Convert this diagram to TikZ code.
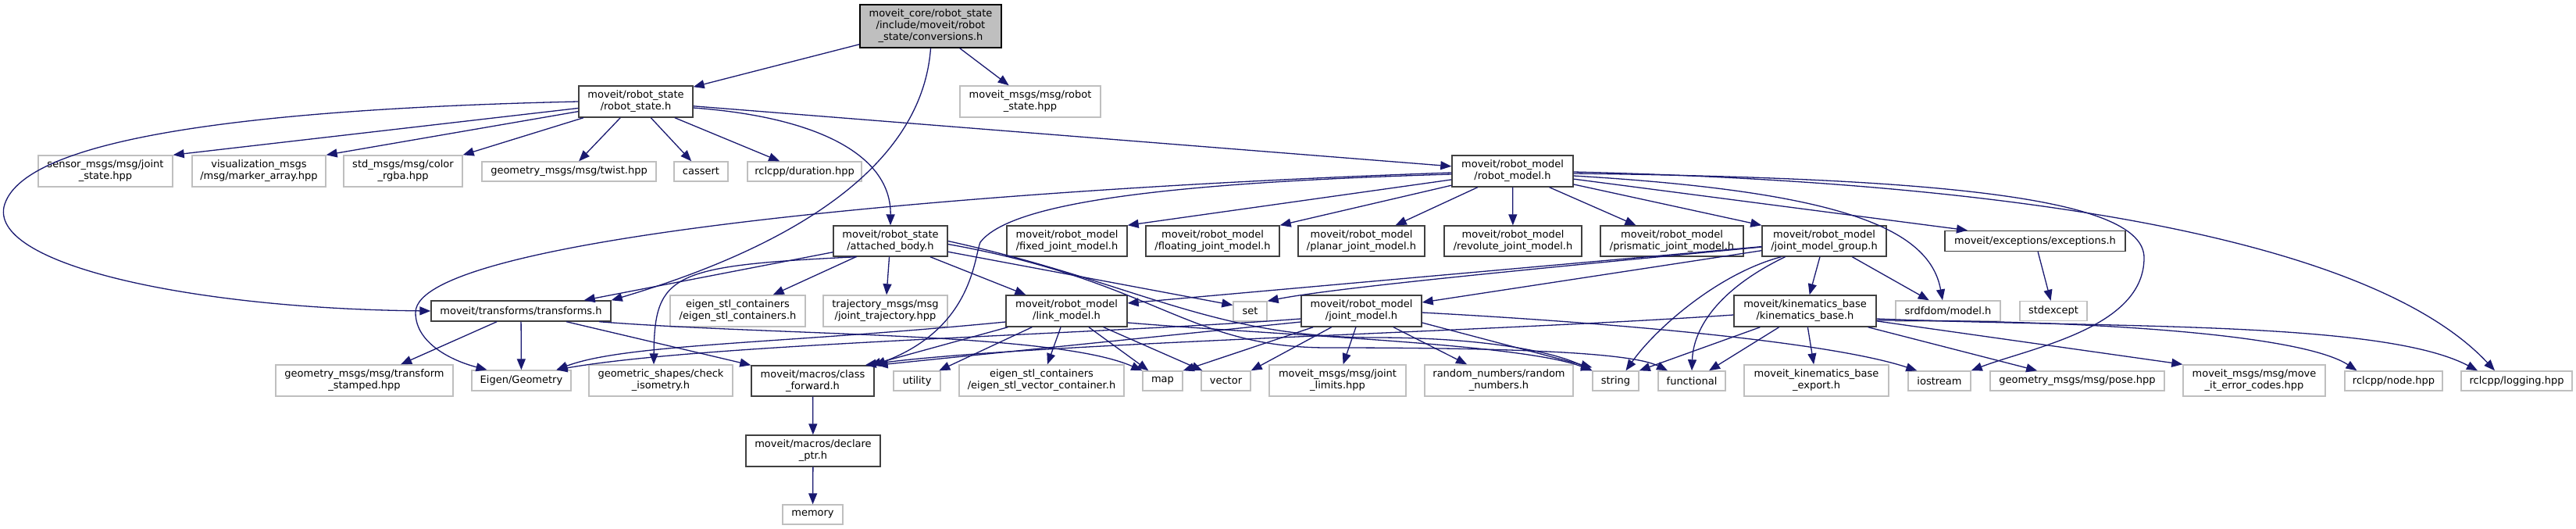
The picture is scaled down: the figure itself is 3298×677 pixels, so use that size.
\documentclass[tikz,border=0pt]{standalone}
\usepackage{fontspec}
\setmainfont{DejaVu Sans}
\usetikzlibrary{arrows.meta}
\definecolor{edgeblue}{HTML}{191970}
\definecolor{docgray}{HTML}{404040}
\definecolor{extgray}{HTML}{BFBFBF}
\begin{document}
\begin{tikzpicture}[x=1pt,y=-1pt,
  box/.style={rectangle, inner sep=0pt, align=center, font=\fontsize{13}{15}\selectfont, line width=1.4pt, fill=white},
  docbox/.style={box, draw=docgray},
  extbox/.style={box, draw=extgray},
  rootbox/.style={box, draw=black, fill=extgray},
  wh/.style 2 args={minimum width=#1pt, minimum height=#2pt},
  dep/.style={draw=edgeblue, line width=1.3pt, -{Triangle[length=14pt,width=11pt]}},
]
\useasboundingbox (0,0) rectangle (3298,677);

% row 0
\node[rootbox, wh={181}{55}] (conv) at (1191.5,33.5) {moveit\_core/robot\_state\\/include/moveit/robot\\\_state/conversions.h};
% row 1
\node[docbox, wh={146}{40}] (rs) at (814,130) {moveit/robot\_state\\/robot\_state.h};
\node[extbox, wh={180}{40}] (msgrs) at (1319,130) {moveit\_msgs/msg/robot\\\_state.hpp};
% row 2
\node[extbox, wh={172}{40}] (js) at (135,219) {sensor\_msgs/msg/joint\\\_state.hpp};
\node[extbox, wh={171}{40}] (marker) at (331.5,219) {visualization\_msgs\\/msg/marker\_array.hpp};
\node[extbox, wh={152}{40}] (color) at (516,219) {std\_msgs/msg/color\\\_rgba.hpp};
\node[extbox, wh={223}{25}] (twist) at (728.5,219.5) {geometry\_msgs/msg/twist.hpp};
\node[extbox, wh={69}{25}] (cassert) at (897.5,219.5) {cassert};
\node[extbox, wh={146}{25}] (duration) at (1030,219.5) {rclcpp/duration.hpp};
\node[docbox, wh={155}{40}] (rm) at (1936.5,219) {moveit/robot\_model\\/robot\_model.h};
% row 3
\node[docbox, wh={146}{39}] (ab) at (1140,308.5) {moveit/robot\_state\\/attached\_body.h};
\node[docbox, wh={154}{39}] (fixed) at (1366,308.5) {moveit/robot\_model\\/fixed\_joint\_model.h};
\node[docbox, wh={171}{39}] (floating) at (1552.5,308.5) {moveit/robot\_model\\/floating\_joint\_model.h};
\node[docbox, wh={162}{39}] (planar) at (1743,308.5) {moveit/robot\_model\\/planar\_joint\_model.h};
\node[docbox, wh={176}{39}] (revolute) at (1937,308.5) {moveit/robot\_model\\/revolute\_joint\_model.h};
\node[docbox, wh={183}{39}] (prismatic) at (2140.5,308.5) {moveit/robot\_model\\/prismatic\_joint\_model.h};
\node[docbox, wh={159}{39}] (jmg) at (2335.5,308.5) {moveit/robot\_model\\/joint\_model\_group.h};
\node[docbox, wh={231}{26}] (exc) at (2605.5,308.5) {moveit/exceptions/exceptions.h};
% row 4
\node[docbox, wh={230}{26}] (tf) at (667,398) {moveit/transforms/transforms.h};
\node[extbox, wh={173}{40}] (esc) at (944.5,398) {eigen\_stl\_containers\\/eigen\_stl\_containers.h};
\node[extbox, wh={159}{40}] (traj) at (1133.5,398) {trajectory\_msgs/msg\\/joint\_trajectory.hpp};
\node[docbox, wh={155}{40}] (lm) at (1365.5,398) {moveit/robot\_model\\/link\_model.h};
\node[extbox, wh={43}{25}] (nset) at (1600.5,398.5) {set};
\node[docbox, wh={154}{40}] (jm) at (1743,398) {moveit/robot\_model\\/joint\_model.h};
\node[docbox, wh={182}{40}] (kb) at (2311,398) {moveit/kinematics\_base\\/kinematics\_base.h};
\node[extbox, wh={134}{26}] (srdf) at (2494,398) {srdfdom/model.h};
\node[extbox, wh={86}{25}] (stdexcept) at (2629,398) {stdexcept};
% row 5
\node[extbox, wh={227}{40}] (tfst) at (466.5,487) {geometry\_msgs/msg/transform\\\_stamped.hpp};
\node[extbox, wh={127}{26}] (eigen) at (667.5,487) {Eigen/Geometry};
\node[extbox, wh={184}{40}] (geoiso) at (846,487) {geometric\_shapes/check\\\_isometry.h};
\node[docbox, wh={157}{39}] (cf) at (1040.5,487.5) {moveit/macros/class\\\_forward.h};
\node[extbox, wh={60}{25}] (utility) at (1174,487.5) {utility};
\node[extbox, wh={211}{40}] (esvc) at (1333.5,487) {eigen\_stl\_containers\\/eigen\_stl\_vector\_container.h};
\node[extbox, wh={51}{25}] (nmap) at (1488.5,487.5) {map};
\node[extbox, wh={63}{25}] (nvector) at (1569.5,487.5) {vector};
\node[extbox, wh={175}{40}] (jl) at (1712.5,487) {moveit\_msgs/msg/joint\\\_limits.hpp};
\node[extbox, wh={190}{40}] (rn) at (1919,487) {random\_numbers/random\\\_numbers.h};
\node[extbox, wh={59}{25}] (nstring) at (2068.5,487.5) {string};
\node[extbox, wh={86}{25}] (functional) at (2166,487.5) {functional};
\node[extbox, wh={185}{40}] (kbexp) at (2325.5,487) {moveit\_kinematics\_base\\\_export.h};
\node[extbox, wh={80}{25}] (iostream) at (2483,487.5) {iostream};
\node[extbox, wh={223}{25}] (pose) at (2659.5,487.5) {geometry\_msgs/msg/pose.hpp};
\node[extbox, wh={182}{40}] (errcodes) at (2886,487) {moveit\_msgs/msg/move\\\_it\_error\_codes.hpp};
\node[extbox, wh={125}{25}] (rnode) at (3064.5,487.5) {rclcpp/node.hpp};
\node[extbox, wh={142}{25}] (logging) at (3222,487.5) {rclcpp/logging.hpp};
% row 6, 7
\node[docbox, wh={172}{40}] (declare) at (1041,577) {moveit/macros/declare\\\_ptr.h};
\node[extbox, wh={77}{25}] (memory) at (1040.5,658.5) {memory};

% conversions.h
\draw[dep] (conv) -- (rs);
\draw[dep] (conv) -- (msgrs);
\draw[dep] (conv.south) .. controls (1180,220) and (1000,320) .. (tf.north east);

% robot_state.h
\draw[dep] (rs) -- (js.north east);
\draw[dep] (rs) -- (marker.north east);
\draw[dep] (rs) -- (color.north east);
\draw[dep] (rs) -- (twist);
\draw[dep] (rs) -- (cassert);
\draw[dep] (rs) -- (duration);
\draw[dep] (rs) -- (rm);
\draw[dep] ([yshift=-8pt]rs.east) .. controls (1050,150) and (1141,200) .. (ab.north);
\draw[dep] (rs.west) .. controls (300,140) and (25,180) .. (5,265) .. controls (-10,340) and (250,395) .. (tf.west);

% robot_model.h
\draw[dep] (rm) -- (fixed.north east);
\draw[dep] (rm) -- (floating.north east);
\draw[dep] (rm) -- (planar);
\draw[dep] (rm) -- (revolute);
\draw[dep] (rm) -- (prismatic);
\draw[dep] (rm) -- (jmg.north west);
\draw[dep] (rm) -- (exc.171);
\draw[dep] ([yshift=-6pt]rm.east) .. controls (2350,245) and (2470,290) .. ([xshift=-7pt]srdf.north);
\draw[dep] ([yshift=-3pt]rm.east) .. controls (2500,228) and (2745,255) .. (2745,330) .. controls (2745,420) and (2600,445) .. (iostream.north east);
\draw[dep] ([yshift=-1pt]rm.east) .. controls (2650,235) and (3050,320) .. ([xshift=-28pt]logging.north);
\draw[dep] ([yshift=-4pt]rm.west) .. controls (1450,235) and (1290,265) .. (1255,310) .. controls (1247,330) and (1245,420) .. (cf.north east);
\draw[dep] ([yshift=-2pt]rm.west) .. controls (1300,240) and (532,300) .. (532,400) .. controls (532,440) and (580,462) .. ([xshift=-44pt]eigen.north);

% attached_body.h
\draw[dep] (ab) -- ([xshift=-35pt]tf.north east);
\draw[dep] ([xshift=-43pt]ab.south) .. controls (860,340) and (838,350) .. ([xshift=-9pt]geoiso.north);
\draw[dep] (ab) -- (esc);
\draw[dep] (ab) -- (traj);
\draw[dep] (ab) -- (lm);
\draw[dep] (ab) -- ([yshift=8pt]nset.west);
\draw[dep] (ab.east) .. controls (1450,360) and (1550,432) .. (1760,432) .. controls (1900,432) and (1990,450) .. (nstring.north west);
\draw[dep] ([yshift=-4pt]ab.east) .. controls (1480,360) and (1520,445) .. (1700,445) .. controls (1950,445) and (2090,452) .. ([xshift=-31pt]functional.north);

% link_model.h
\draw[dep] (lm) -- ([xshift=-6pt]cf.north east);
\draw[dep] ([yshift=-14pt]lm.west) .. controls (1000,440) and (800,440) .. ([xshift=45pt]eigen.north);
\draw[dep] (lm) -- (utility);
\draw[dep] (lm) -- (esvc);
\draw[dep] (lm) -- (nmap);
\draw[dep] (lm) -- (nvector);
\draw[dep] ([yshift=-15pt]lm.east) .. controls (1650,430) and (1950,440) .. (nstring.north west);

% joint_model.h
\draw[dep] ([yshift=-15pt]jm.east) -- ([yshift=4pt]nstring.north west);
\draw[dep] (jm) -- (nvector.north east);
\draw[dep] (jm) -- (jl);
\draw[dep] (jm) -- (rn);
\draw[dep] (jm) -- (nmap.north east);
\draw[dep] ([yshift=-2pt]jm.east) .. controls (2100,415) and (2350,440) .. ([xshift=12pt]iostream.north west);
\draw[dep] ([yshift=-14pt]jm.west) -- ([xshift=3pt]cf.north east);
\draw[dep] ([yshift=-10pt]jm.west) .. controls (1400,428) and (900,440) .. ([xshift=45pt]eigen.north);

% kinematics_base.h
\draw[dep] ([yshift=-5pt]kb.west) .. controls (1900,425) and (1300,440) .. ([xshift=-12pt]cf.north east);
\draw[dep] (kb) -- (nstring.north east);
\draw[dep] (kb) -- ([xshift=22pt]functional.north);
\draw[dep] (kb) -- (kbexp);
\draw[dep] (kb) -- (pose);
\draw[dep] (kb) -- (errcodes.north west);
\draw[dep] ([yshift=-12pt]kb.east) .. controls (2700,410) and (2950,430) .. ([xshift=-47pt]rnode.north);
\draw[dep] ([yshift=-10pt]kb.east) .. controls (2700,420) and (3050,410) .. ([xshift=-50pt]logging.north);

% joint_model_group.h
\draw[dep] (jmg) -- ([yshift=11pt]jm.east);
\draw[dep] (jmg) -- ([yshift=10pt]lm.east);
\draw[dep] (jmg) .. controls (1900,350) and (1700,370) .. (nset.north east);
\draw[dep] ([xshift=-55pt]jmg.south) .. controls (2200,350) and (2120,420) .. ([xshift=13pt]nstring.north);
\draw[dep] ([xshift=-50pt]jmg.south) .. controls (2200,370) and (2168,420) .. (functional.north);
\draw[dep] (jmg) -- (kb);
\draw[dep] (jmg) -- (srdf);

% others
\draw[dep] (exc) -- (stdexcept);
\draw[dep] (cf) -- (declare);
\draw[dep] (declare) -- (memory);

% transforms.h
\draw[dep] (tf) -- (tfst);
\draw[dep] (tf) -- (eigen);
\draw[dep] (tf) -- (cf.north west);
\draw[dep] ([xshift=100pt]tf.south) .. controls (1000,430) and (1350,425) .. (nmap.north west);
\end{tikzpicture}
\end{document}
